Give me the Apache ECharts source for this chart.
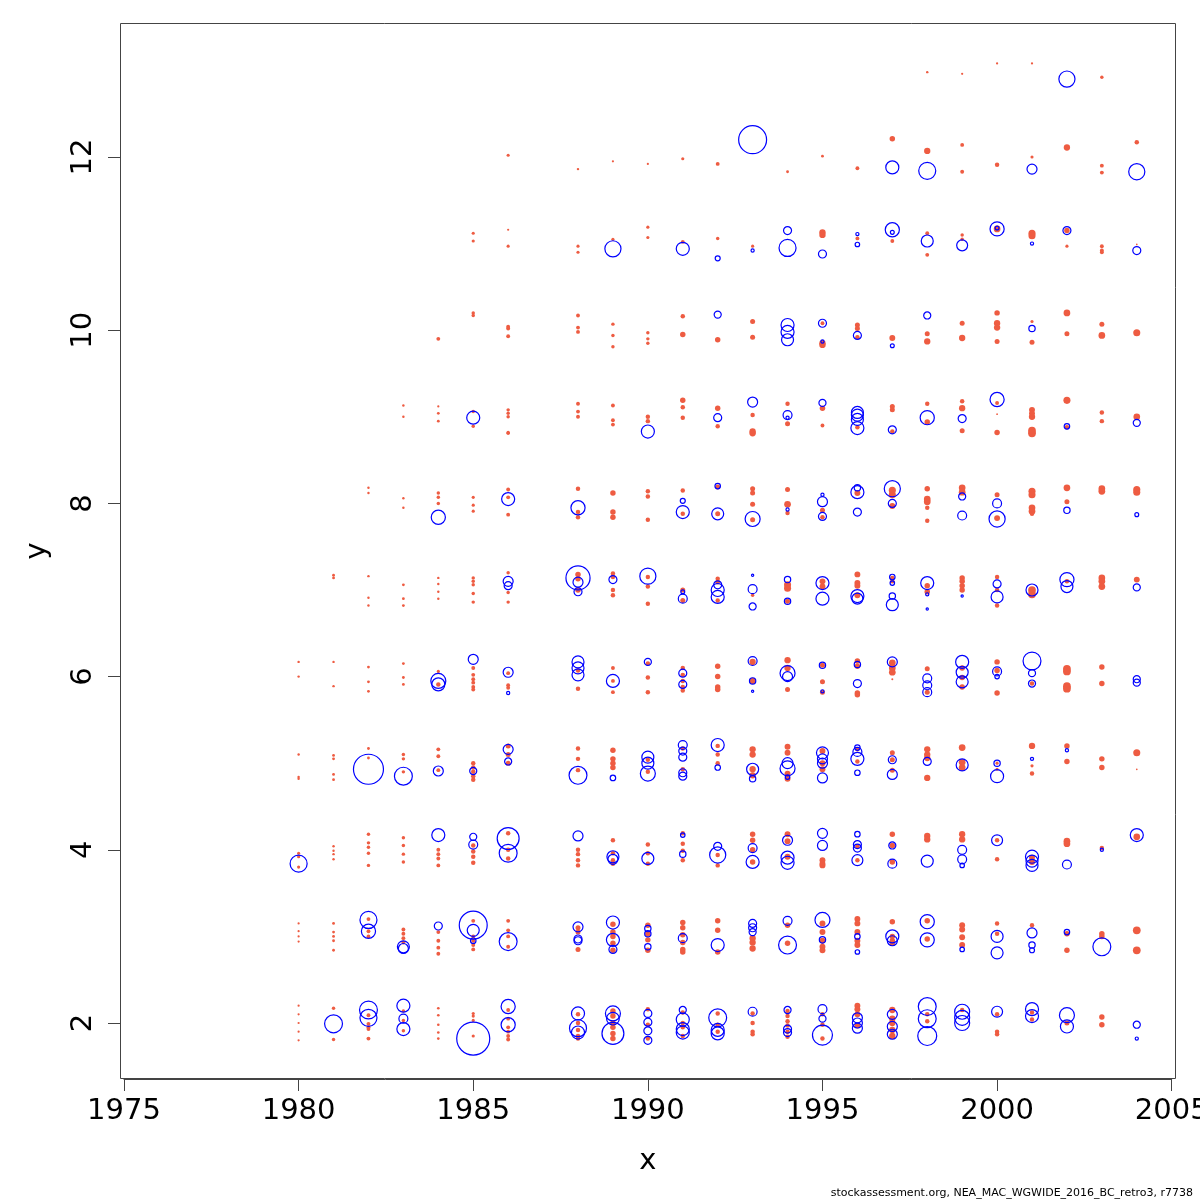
<!DOCTYPE html>
<html>
<head>
<meta charset="utf-8">
<script src="https://cdn.jsdelivr.net/npm/echarts@6/dist/echarts.min.js"></script>
<style>
html, body { margin: 0; padding: 0; background: #fff; }
#chart { width: 1200px; height: 1200px; }
</style>
</head>
<body>
<div id="chart"></div>
<script>
// residuals by age row: [year, y, residual]; negative -> filled red, positive -> open blue
const age2 = [
  [1980,2.2,-0.05],[1980,2.1,-0.05],[1980,2.0,-0.05],[1980,1.9,-0.05],[1980,1.8,-0.05],
  [1981,2.17,-0.12],[1981,1.81,-0.12],[1981,1.99,3.2],
  [1982,2.15,3.2],[1982,2.06,2.9],[1982,2.09,-0.15],[1982,1.99,-0.15],[1982,1.95,-0.15],[1982,1.93,-0.15],[1982,1.82,-0.15],
  [1983,2.2,1.7],[1983,2.05,0.8],[1983,1.93,1.7],[1983,2.14,-0.12],[1983,2.03,-0.12],[1983,1.91,-0.12],
  [1984,2.17,-0.07],[1984,2.09,-0.07],[1984,1.98,-0.07],[1984,1.89,-0.07],[1984,1.82,-0.07],
  [1985,1.82,10.9],[1985,2.11,-0.1],[1985,2.08,-0.1],[1985,2.03,-0.1],[1985,1.85,-0.1],
  [1986,2.19,2.0],[1986,1.98,2.0],[1986,2.15,-0.15],[1986,2.05,-0.15],[1986,1.95,-0.15],[1986,1.9,-0.15],[1986,1.85,-0.15],[1986,1.81,-0.15],
  [1988,2.11,1.7],[1988,1.94,2.9],[1988,1.89,1.7],[1988,2.1,-0.2],[1988,2.0,-0.2],[1988,1.92,-0.2],[1988,1.85,-0.2],[1988,1.82,-0.2],
  [1989,2.11,2.25],[1989,2.05,1.6],[1989,1.88,4.8],[1989,2.14,-0.3],[1989,2.08,-0.3],[1989,2.0,-0.3],[1989,1.95,-0.3],[1989,1.88,-0.3],[1989,1.82,-0.3],
  [1990,2.11,0.64],[1990,2.01,0.64],[1990,1.91,0.64],[1990,1.8,0.64],[1990,2.16,-0.2],[1990,1.98,-0.2],[1990,1.82,-0.2],
  [1991,2.15,0.5],[1991,2.04,1.7],[1991,1.93,1.7],[1991,1.89,1.7],[1991,2.12,-0.2],[1991,2.0,-0.2],[1991,1.95,-0.2],[1991,1.85,-0.2],
  [1992,2.06,3.2],[1992,1.92,1.7],[1992,1.88,1.7],[1992,2.11,-0.2],[1992,1.98,-0.2],[1992,1.9,-0.2],
  [1993,2.13,0.8],[1993,2.11,-0.2],[1993,2.0,-0.2],[1993,1.9,-0.2],[1993,1.87,-0.2],
  [1994,2.15,0.5],[1994,1.93,0.64],[1994,1.89,0.64],[1994,2.14,-0.2],[1994,2.08,-0.2],[1994,2.02,-0.2],[1994,1.97,-0.2],[1994,1.9,-0.2],[1994,1.84,-0.2],
  [1995,2.16,0.8],[1995,2.05,0.5],[1995,1.86,4.0],[1995,2.1,-0.2],[1995,1.98,-0.2],[1995,1.82,-0.2],
  [1996,2.06,1.0],[1996,2.0,1.0],[1996,1.94,1.0],[1996,2.2,-0.35],[1996,2.16,-0.35],[1996,2.1,-0.35],[1996,1.97,-0.35],
  [1997,2.1,1.0],[1997,1.96,1.0],[1997,1.87,1.0],[1997,2.15,-0.4],[1997,2.05,-0.4],[1997,2.0,-0.4],[1997,1.92,-0.4],[1997,1.85,-0.4],
  [1998,2.19,3.2],[1998,2.05,3.2],[1998,1.85,3.6],[1998,2.1,-0.2],[1998,2.02,-0.2],
  [1999,2.13,2.25],[1999,2.06,2.25],[1999,2.0,2.25],[1999,2.15,-0.2],
  [2000,2.13,1.2],[2000,2.1,-0.2],[2000,1.9,-0.2],[2000,1.87,-0.2],
  [2001,2.16,1.7],[2001,2.08,1.7],[2001,2.12,-0.2],[2001,2.04,-0.2],
  [2002,2.09,2.25],[2002,1.96,1.7],[2002,2.0,-0.25],
  [2003,2.07,-0.3],[2003,1.98,-0.3],
  [2004,1.98,0.5],[2004,1.82,0.1]
];
const age3 = [
  [1980,3.15,-0.05],[1980,3.06,-0.05],[1980,3.0,-0.05],[1980,2.94,-0.05],
  [1981,3.15,-0.08],[1981,3.05,-0.08],[1981,3.0,-0.08],[1981,2.95,-0.08],[1981,2.84,-0.08],
  [1982,3.19,2.9],[1982,3.06,2.0],[1982,3.2,-0.15],[1982,3.06,-0.15],[1982,3.0,-0.15],
  [1983,2.88,1.44],[1983,2.86,1.0],[1983,3.08,-0.15],[1983,3.03,-0.15],[1983,2.98,-0.15],[1983,2.93,-0.15],
  [1984,3.12,0.64],[1984,3.05,-0.15],[1984,2.95,-0.15],[1984,2.87,-0.15],[1984,2.8,-0.15],
  [1985,3.13,7.8],[1985,3.07,1.44],[1985,2.95,0.3],[1985,3.18,-0.15],[1985,3.0,-0.15],[1985,2.95,-0.15],[1985,2.9,-0.15],[1985,2.85,-0.15],
  [1986,2.94,3.2],[1986,3.18,-0.15],[1986,3.07,-0.15],[1986,3.0,-0.15],[1986,2.88,-0.15],
  [1988,3.11,1.0],[1988,2.97,0.64],[1988,2.95,0.64],[1988,3.1,-0.25],[1988,3.05,-0.25],[1988,2.85,-0.25],
  [1989,3.16,1.7],[1989,2.96,1.7],[1989,2.85,0.64],[1989,3.14,-0.3],[1989,3.05,-0.3],[1989,3.0,-0.3],[1989,2.92,-0.3],[1989,2.84,-0.3],
  [1990,3.09,0.4],[1990,3.03,0.4],[1990,2.88,0.4],[1990,3.13,-0.3],[1990,3.03,-0.3],[1990,2.96,-0.3],[1990,2.84,-0.3],
  [1991,2.98,0.8],[1991,3.16,-0.3],[1991,3.1,-0.3],[1991,3.02,-0.3],[1991,2.93,-0.3],[1991,2.85,-0.3],[1991,2.82,-0.3],
  [1992,2.9,1.7],[1992,3.18,-0.3],[1992,3.07,-0.3],[1992,2.82,-0.3],
  [1993,3.15,0.64],[1993,3.1,0.64],[1993,3.05,0.5],[1993,2.98,-0.4],[1993,2.93,-0.4],[1993,2.86,-0.4],
  [1994,3.18,0.8],[1994,2.9,3.2],[1994,3.13,-0.3],[1994,2.92,-0.3],
  [1995,3.19,2.25],[1995,2.96,0.4],[1995,3.15,-0.35],[1995,3.05,-0.35],[1995,2.95,-0.35],[1995,2.88,-0.35],[1995,2.84,-0.35],
  [1996,3.0,0.3],[1996,2.82,0.2],[1996,3.2,-0.35],[1996,3.15,-0.35],[1996,3.05,-0.35],[1996,2.95,-0.35],[1996,2.9,-0.35],
  [1997,3.0,1.7],[1997,2.95,1.0],[1997,3.17,-0.3],[1997,3.0,-0.3],[1997,2.95,-0.3],[1997,2.92,-0.3],
  [1998,3.17,2.0],[1998,2.96,2.0],[1998,3.18,-0.3],[1998,2.97,-0.3],
  [1999,2.85,0.2],[1999,3.13,-0.35],[1999,3.08,-0.35],[1999,2.99,-0.35],[1999,2.9,-0.35],
  [2000,3.0,1.44],[2000,2.81,1.44],[2000,3.15,-0.2],[2000,3.03,-0.2],
  [2001,3.04,1.0],[2001,2.9,0.4],[2001,2.84,0.25],[2001,3.13,-0.2],
  [2002,3.05,0.3],[2002,3.03,-0.3],[2002,2.84,-0.3],
  [2003,2.88,3.2],[2003,3.03,-0.3],[2003,3.0,-0.3],
  [2004,3.07,-0.6],[2004,2.84,-0.6]
];
const age4 = [
  [1980,3.84,2.9],[1980,3.96,-0.1],[1980,3.92,-0.1],[1980,3.8,-0.1],
  [1981,4.04,-0.06],[1981,3.99,-0.06],[1981,3.95,-0.06],[1981,3.89,-0.06],
  [1982,4.18,-0.12],[1982,4.08,-0.12],[1982,4.03,-0.12],[1982,3.96,-0.12],[1982,3.82,-0.12],
  [1983,4.14,-0.12],[1983,4.05,-0.12],[1983,3.95,-0.12],[1983,3.86,-0.12],
  [1984,4.17,1.7],[1984,4.0,-0.15],[1984,3.95,-0.15],[1984,3.9,-0.15],[1984,3.82,-0.15],
  [1985,4.15,0.5],[1985,4.06,0.8],[1985,4.05,-0.2],[1985,3.98,-0.2],[1985,3.92,-0.2],[1985,3.85,-0.2],
  [1986,4.13,4.8],[1986,3.96,3.2],[1986,4.19,-0.2],[1986,4.0,-0.2],[1986,3.9,-0.2],
  [1988,4.16,1.0],[1988,4.0,-0.2],[1988,3.95,-0.2],[1988,3.88,-0.2],[1988,3.82,-0.2],
  [1989,3.92,1.44],[1989,3.89,1.0],[1989,4.11,-0.2],[1989,3.96,-0.2],[1989,3.88,-0.2],[1989,3.84,-0.2],
  [1990,3.9,1.44],[1990,4.06,-0.2],[1990,3.96,-0.2],[1990,3.84,-0.2],
  [1991,4.17,0.2],[1991,3.95,0.4],[1991,4.19,-0.2],[1991,4.07,-0.2],[1991,3.99,-0.2],[1991,3.88,-0.2],
  [1992,4.04,0.64],[1992,3.94,2.6],[1992,3.94,-0.2],[1992,3.82,-0.2],
  [1993,4.02,0.8],[1993,3.86,1.7],[1993,4.18,-0.3],[1993,4.11,-0.3],[1993,4.0,-0.3],[1993,3.86,-0.3],
  [1994,4.11,1.0],[1994,3.91,1.7],[1994,3.85,1.7],[1994,4.18,-0.35],[1994,4.1,-0.35],[1994,3.92,-0.35],
  [1995,4.19,1.0],[1995,4.05,1.0],[1995,3.88,-0.35],[1995,3.84,-0.35],[1995,3.82,-0.35],
  [1996,4.18,0.3],[1996,4.06,0.64],[1996,4.02,0.64],[1996,3.88,1.2],[1996,4.04,-0.2],[1996,3.88,-0.2],
  [1997,4.05,0.5],[1997,3.84,0.8],[1997,4.18,-0.3],[1997,4.05,-0.3],[1997,3.86,-0.3],
  [1998,3.87,1.44],[1998,4.16,-0.4],[1998,4.12,-0.4],
  [1999,4.0,0.8],[1999,3.89,0.8],[1999,3.82,0.2],[1999,4.18,-0.4],[1999,4.12,-0.4],
  [2000,4.11,1.2],[2000,4.11,-0.2],[2000,3.89,-0.2],
  [2001,3.92,1.7],[2001,3.87,1.44],[2001,3.82,1.44],[2001,3.91,-0.35],[2001,3.86,-0.35],
  [2002,3.83,0.8],[2002,4.1,-0.45],[2002,4.07,-0.45],
  [2003,4.0,0.1],[2003,4.02,-0.2],
  [2004,4.17,1.7],[2004,4.15,-0.45]
];
const age5 = [
  [1980,5.1,-0.06],[1980,4.84,-0.06],[1980,4.82,-0.06],
  [1981,5.09,-0.08],[1981,5.05,-0.08],[1981,4.87,-0.08],[1981,4.81,-0.08],
  [1982,4.93,9.0],[1982,5.17,-0.08],[1982,5.06,-0.08],
  [1983,4.85,3.2],[1983,5.1,-0.12],[1983,5.05,-0.12],[1983,4.9,-0.12],
  [1984,4.91,1.0],[1984,5.16,-0.15],[1984,5.08,-0.15],[1984,4.92,-0.15],
  [1985,4.91,0.5],[1985,5.0,-0.2],[1985,4.95,-0.2],[1985,4.9,-0.2],[1985,4.85,-0.2],[1985,4.81,-0.2],
  [1986,5.16,1.0],[1986,5.02,0.5],[1986,5.2,-0.25],[1986,5.1,-0.25],[1986,5.0,-0.25],
  [1988,4.86,3.2],[1988,5.17,-0.2],[1988,5.05,-0.2],[1988,4.92,-0.2],
  [1989,4.83,0.3],[1989,5.15,-0.3],[1989,5.05,-0.3],[1989,5.0,-0.3],[1989,4.95,-0.3],
  [1990,5.07,1.44],[1990,5.0,1.44],[1990,4.88,2.25],[1990,5.04,-0.2],[1990,4.9,-0.2],
  [1991,5.21,0.8],[1991,5.14,0.64],[1991,5.07,0.64],[1991,4.89,0.64],[1991,4.85,0.64],[1991,5.17,-0.2],[1991,4.93,-0.2],
  [1992,5.21,1.7],[1992,4.95,0.3],[1992,5.2,-0.2],[1992,5.1,-0.2],[1992,5.0,-0.2],
  [1993,4.93,1.44],[1993,4.82,0.4],[1993,5.16,-0.4],[1993,5.1,-0.4],[1993,4.93,-0.4],[1993,4.86,-0.4],
  [1994,5.0,1.2],[1994,4.94,2.25],[1994,4.84,0.2],[1994,5.19,-0.35],[1994,5.12,-0.35],[1994,4.88,-0.35],[1994,4.82,-0.35],
  [1995,5.12,1.44],[1995,5.05,1.0],[1995,5.0,1.0],[1995,4.83,1.0],[1995,5.14,-0.35],[1995,5.0,-0.35],[1995,4.93,-0.35],
  [1996,5.18,0.3],[1996,5.13,0.8],[1996,5.05,1.7],[1996,4.89,0.3],[1996,5.16,-0.2],[1996,5.02,-0.2],
  [1997,5.04,0.64],[1997,4.87,1.0],[1997,5.12,-0.25],[1997,5.04,-0.25],[1997,4.92,-0.25],
  [1998,5.02,0.64],[1998,5.16,-0.4],[1998,5.1,-0.4],[1998,5.06,-0.4],[1998,4.83,-0.4],
  [1999,4.98,1.44],[1999,5.18,-0.45],[1999,5.01,-0.45],[1999,4.95,-0.45],
  [2000,5.0,0.4],[2000,4.85,1.7],[2000,5.0,-0.1],[2000,4.93,-0.1],
  [2001,5.05,0.1],[2001,5.2,-0.4],[2001,4.97,-0.1],[2001,4.88,-0.2],
  [2002,5.15,0.1],[2002,5.2,-0.3],[2002,5.02,-0.3],
  [2003,5.05,-0.3],[2003,4.95,-0.3],
  [2004,5.12,-0.5],[2004,4.93,-0.03]
];
const age6 = [
  [1980,6.17,-0.06],[1980,6.0,-0.06],
  [1981,6.17,-0.06],[1981,5.89,-0.06],
  [1982,6.11,-0.08],[1982,5.94,-0.08],[1982,5.83,-0.08],
  [1983,6.15,-0.08],[1983,5.99,-0.08],[1983,5.91,-0.08],
  [1984,6.06,-0.1],[1984,5.95,2.25],[1984,5.91,1.7],[1984,5.91,-0.2],
  [1985,6.2,1.0],[1985,6.1,-0.15],[1985,6.02,-0.15],[1985,5.97,-0.15],[1985,5.93,-0.15],[1985,5.88,-0.15],[1985,5.85,-0.15],
  [1986,6.05,1.0],[1986,6.04,-0.15],[1986,5.9,-0.15],[1986,5.87,-0.15],[1986,5.81,0.1],
  [1988,6.17,1.44],[1988,6.1,1.44],[1988,6.02,1.44],[1988,6.07,-0.2],[1988,5.86,-0.2],
  [1989,5.95,1.7],[1989,6.1,-0.15],[1989,5.95,-0.15],[1989,5.82,-0.15],
  [1990,6.17,0.5],[1990,6.15,-0.2],[1990,5.99,-0.2],[1990,5.82,-0.2],
  [1991,6.04,0.64],[1991,5.91,0.64],[1991,6.1,-0.2],[1991,6.02,-0.2],[1991,5.95,-0.2],[1991,5.88,-0.2],[1991,5.84,-0.2],
  [1992,6.12,-0.3],[1992,6.0,-0.3],[1992,5.88,-0.3],[1992,5.85,-0.3],
  [1993,6.18,0.8],[1993,5.95,0.4],[1993,5.83,0.05],[1993,6.17,-0.4],[1993,5.95,-0.4],
  [1994,6.04,2.25],[1994,6.0,1.0],[1994,6.19,-0.4],[1994,6.1,-0.4],[1994,5.85,-0.25],
  [1995,6.13,0.4],[1995,5.83,0.1],[1995,6.13,-0.25],[1995,5.94,-0.25],[1995,5.82,-0.25],
  [1996,6.14,0.4],[1996,5.92,0.64],[1996,6.18,-0.3],[1996,6.12,-0.3],[1996,5.81,-0.3],[1996,5.79,-0.3],
  [1997,6.17,1.0],[1997,6.16,-0.45],[1997,6.1,-0.45],[1997,6.05,-0.45],[1997,5.97,-0.04],
  [1998,5.98,0.8],[1998,5.9,0.8],[1998,5.82,0.8],[1998,6.09,-0.25],[1998,5.82,-0.25],
  [1999,6.17,1.7],[1999,6.05,1.44],[1999,5.94,1.44],[1999,6.1,-0.3],[1999,5.99,-0.3],[1999,5.88,-0.3],
  [2000,6.06,0.8],[2000,6.0,0.2],[2000,6.17,-0.3],[2000,6.07,-0.3],[2000,5.81,-0.3],
  [2001,6.18,3.2],[2001,6.04,0.5],[2001,5.92,0.5],[2001,5.92,-0.2],
  [2002,6.09,-0.6],[2002,6.06,-0.6],[2002,5.89,-0.6],[2002,5.86,-0.6],
  [2003,6.11,-0.3],[2003,5.92,-0.3],
  [2004,5.97,0.5],[2004,5.93,0.5]
];
const age7 = [
  [1981,7.17,-0.08],[1981,7.14,-0.08],
  [1982,7.16,-0.06],[1982,6.91,-0.06],[1982,6.82,-0.06],
  [1983,7.06,-0.08],[1983,6.9,-0.08],[1983,6.82,-0.08],
  [1984,7.14,-0.06],[1984,7.07,-0.06],[1984,6.98,-0.06],[1984,6.9,-0.06],
  [1985,7.14,-0.12],[1985,7.1,-0.12],[1985,7.06,-0.12],[1985,6.96,-0.12],[1985,6.86,-0.12],
  [1986,7.2,-0.12],[1986,6.97,-0.12],[1986,6.86,-0.12],[1986,7.1,1.0],[1986,7.05,0.64],
  [1988,7.14,5.8],[1988,7.09,1.0],[1988,6.98,0.64],[1988,7.18,-0.3],[1988,7.13,-0.3],[1988,7.0,-0.3],
  [1989,7.12,0.64],[1989,7.19,-0.2],[1989,7.15,-0.2],[1989,7.0,-0.2],[1989,6.94,-0.2],
  [1990,7.16,2.6],[1990,7.15,-0.2],[1990,7.04,-0.2],[1990,6.84,-0.2],
  [1991,6.98,0.15],[1991,6.9,0.8],[1991,7.0,-0.25],[1991,6.88,-0.25],
  [1992,7.0,1.7],[1992,6.92,1.7],[1992,7.06,0.64],[1992,7.13,-0.2],[1992,7.09,-0.2],[1992,6.88,-0.2],
  [1993,7.17,0.05],[1993,7.01,0.8],[1993,6.81,0.5],[1993,6.94,-0.12],
  [1994,7.12,0.4],[1994,6.87,0.4],[1994,7.06,-0.5],[1994,7.02,-0.5],[1994,6.87,-0.25],
  [1995,7.08,1.7],[1995,6.9,1.7],[1995,7.1,-0.35],[1995,7.04,-0.35],
  [1996,6.93,1.7],[1996,6.9,1.2],[1996,7.18,-0.35],[1996,7.08,-0.35],[1996,7.05,-0.35],[1996,6.94,-0.35],
  [1997,7.15,0.3],[1997,7.08,0.2],[1997,6.93,0.4],[1997,6.83,1.44],[1997,7.14,-0.2],[1997,7.1,-0.2],
  [1998,7.08,1.7],[1998,6.95,0.1],[1998,6.78,0.05],[1998,7.05,-0.3],[1998,6.98,-0.3],
  [1999,6.93,0.05],[1999,7.14,-0.3],[1999,7.1,-0.3],[1999,7.05,-0.3],[1999,7.0,-0.3],
  [2000,7.07,0.64],[2000,6.92,1.44],[2000,7.15,-0.2],[2000,7.0,-0.2],[2000,6.82,-0.2],
  [2001,7.0,1.44],[2001,7.0,-0.6],[2001,6.95,-0.6],
  [2002,7.12,2.0],[2002,7.04,1.44],[2002,7.1,-0.2],
  [2003,7.14,-0.45],[2003,7.1,-0.45],[2003,7.04,-0.45],
  [2004,7.12,-0.35],[2004,7.03,0.5]
];
const age8 = [
  [1982,8.18,-0.06],[1982,8.12,-0.06],
  [1983,8.06,-0.06],[1983,7.95,-0.06],
  [1984,8.12,-0.12],[1984,8.07,-0.12],[1984,8.0,-0.12],[1984,7.84,2.0],
  [1985,8.07,-0.1],[1985,7.98,-0.1],[1985,7.91,-0.1],
  [1986,8.16,-0.15],[1986,8.07,-0.15],[1986,7.87,-0.15],[1986,8.05,1.7],
  [1988,8.17,-0.2],[1988,7.9,-0.2],[1988,7.84,-0.2],[1988,7.95,2.0],
  [1989,8.12,-0.3],[1989,7.9,-0.3],[1989,7.84,-0.3],
  [1990,8.14,-0.2],[1990,8.08,-0.2],[1990,7.81,-0.2],
  [1991,8.03,0.25],[1991,7.9,1.7],[1991,8.15,-0.2],[1991,7.88,-0.2],
  [1992,8.2,0.3],[1992,8.19,-0.25],[1992,7.88,-0.25],[1992,7.88,1.44],
  [1993,8.17,-0.25],[1993,8.12,-0.25],[1993,7.99,-0.25],[1993,7.82,2.25],[1993,7.81,-0.25],
  [1994,8.16,-0.25],[1994,7.99,-0.45],[1994,7.93,0.1],[1994,7.89,-0.2],
  [1995,8.1,0.1],[1995,8.02,1.0],[1995,7.92,-0.25],[1995,7.85,0.64],[1995,7.84,-0.2],
  [1996,8.18,0.4],[1996,8.13,1.7],[1996,8.12,-0.35],[1996,7.9,0.64],
  [1997,8.17,2.6],[1997,8.15,-0.5],[1997,8.1,-0.5],[1997,8.0,0.64],[1997,7.97,-0.35],
  [1998,8.17,-0.3],[1998,8.05,-0.45],[1998,8.02,-0.45],[1998,7.95,-0.2],[1998,7.8,-0.2],
  [1999,8.18,-0.45],[1999,8.13,-0.45],[1999,8.08,0.5],[1999,7.86,0.8],
  [2000,8.1,-0.25],[2000,8.0,0.8],[2000,7.82,2.6],[2000,7.83,-0.35],
  [2001,8.14,-0.5],[2001,8.1,-0.5],[2001,7.95,-0.45],[2001,7.91,-0.45],[2001,7.88,-0.2],
  [2002,8.18,-0.45],[2002,8.02,-0.25],[2002,7.92,0.4],
  [2003,8.17,-0.45],[2003,8.14,-0.45],
  [2004,8.16,-0.5],[2004,8.13,-0.5],[2004,7.87,0.15]
];
const age9 = [
  [1983,9.13,-0.06],[1983,9.0,-0.06],
  [1984,9.12,-0.05],[1984,9.04,-0.08],[1984,8.95,-0.08],
  [1985,9.06,-0.12],[1985,8.89,-0.12],[1985,8.99,1.7],
  [1986,9.08,-0.12],[1986,9.04,-0.12],[1986,9.0,-0.12],[1986,8.82,-0.12],[1986,8.81,-0.12],
  [1988,9.15,-0.15],[1988,9.06,-0.15],[1988,9.0,-0.15],
  [1989,9.13,-0.15],[1989,8.96,-0.15],[1989,8.91,-0.15],
  [1990,9.0,-0.2],[1990,8.95,-0.2],[1990,8.83,1.7],
  [1991,9.19,-0.3],[1991,9.11,-0.2],[1991,8.99,-0.2],
  [1992,9.1,-0.3],[1992,8.99,0.64],[1992,8.89,-0.2],
  [1993,9.17,1.0],[1993,9.02,-0.2],[1993,8.83,-0.4],[1993,8.81,-0.4],
  [1994,9.15,-0.2],[1994,9.02,0.8],[1994,8.99,0.1],[1994,8.92,-0.25],
  [1995,9.16,0.5],[1995,9.1,-0.3],[1995,8.9,-0.15],
  [1996,9.05,1.44],[1996,9.02,1.44],[1996,8.97,1.44],[1996,8.87,1.7],[1996,8.88,-0.2],
  [1997,9.12,-0.25],[1997,9.08,-0.25],[1997,8.85,0.64],[1997,8.83,-0.2],
  [1998,9.15,-0.2],[1998,8.99,2.0],[1998,8.94,-0.3],
  [1999,9.18,-0.2],[1999,9.1,-0.4],[1999,8.98,0.64],[1999,8.84,-0.25],
  [2000,9.2,2.0],[2000,9.16,-0.15],[2000,9.03,-0.03],[2000,8.82,-0.3],
  [2001,9.08,-0.35],[2001,9.04,-0.35],[2001,9.0,-0.4],[2001,8.84,-0.6],[2001,8.81,-0.6],
  [2002,9.19,-0.5],[2002,8.89,0.3],[2002,8.88,-0.2],
  [2003,9.05,-0.2],[2003,8.95,-0.2],
  [2004,9.0,-0.45],[2004,8.93,0.5]
];
const age10 = [
  [1984,9.9,-0.15],
  [1985,10.2,-0.12],[1985,10.17,-0.12],
  [1986,10.04,-0.15],[1986,10.02,-0.15],[1986,9.93,-0.15],
  [1988,10.17,-0.15],[1988,10.03,-0.15],[1988,9.98,-0.15],
  [1989,10.07,-0.12],[1989,9.94,-0.12],[1989,9.81,-0.12],
  [1990,9.97,-0.12],[1990,9.9,-0.12],[1990,9.85,-0.12],
  [1991,10.16,-0.2],[1991,9.95,-0.3],
  [1992,10.18,0.5],[1992,9.89,-0.3],
  [1993,10.1,-0.25],[1993,9.92,-0.25],
  [1994,10.06,1.7],[1994,9.98,1.7],[1994,9.89,1.44],
  [1995,10.08,0.64],[1995,10.08,-0.15],[1995,9.85,-0.4],[1995,9.83,-0.4],[1995,9.87,0.1],
  [1996,10.06,-0.25],[1996,10.02,-0.25],[1996,9.94,0.64],[1996,9.92,-0.2],
  [1997,9.91,-0.35],[1997,9.82,0.15],
  [1998,10.17,0.5],[1998,9.96,-0.25],[1998,9.87,-0.4],
  [1999,10.08,-0.25],[1999,9.91,-0.4],
  [2000,10.2,-0.3],[2000,10.08,-0.4],[2000,10.03,-0.4],[2000,9.87,-0.25],
  [2001,10.1,-0.1],[2001,10.02,0.4],[2001,9.86,-0.25],
  [2002,10.2,-0.45],[2002,9.96,-0.25],
  [2003,10.07,-0.25],[2003,9.94,-0.45],
  [2004,9.97,-0.5]
];
const age11 = [
  [1985,11.12,-0.1],[1985,11.03,-0.1],
  [1986,11.16,-0.05],[1986,10.97,-0.1],
  [1988,10.97,-0.1],[1988,10.9,-0.1],
  [1989,11.05,-0.1],[1989,10.94,2.6],
  [1990,11.19,-0.1],[1990,11.07,-0.1],
  [1991,11.02,-0.15],[1991,10.94,1.7],
  [1992,11.06,-0.12],[1992,10.83,0.25],
  [1993,10.97,-0.1],[1993,10.92,0.1],
  [1994,11.15,0.64],[1994,10.95,2.9],
  [1995,11.13,-0.4],[1995,11.1,-0.4],[1995,10.88,0.64],
  [1996,11.11,0.1],[1996,11.06,-0.15],[1996,10.99,0.2],
  [1997,11.16,2.0],[1997,11.13,0.15],[1997,11.03,-0.15],
  [1998,11.12,-0.15],[1998,11.03,1.44],[1998,10.87,-0.15],
  [1999,11.1,-0.12],[1999,11.05,-0.12],[1999,10.98,1.2],
  [2000,11.17,2.0],[2000,11.17,-0.45],[2000,11.18,0.15],
  [2001,11.12,-0.5],[2001,11.09,-0.5],[2001,11.0,0.1],
  [2002,11.15,0.64],[2002,11.15,-0.3],[2002,10.97,-0.1],
  [2003,10.97,-0.15],[2003,10.92,-0.15],[2003,10.9,-0.15],
  [2004,10.99,-0.03],[2004,10.92,0.64]
];
const age12 = [
  [1986,12.02,-0.1],[1988,11.86,-0.06],[1989,11.95,-0.05],[1990,11.92,-0.05],
  [1991,11.98,-0.1],[1992,11.92,-0.15],[1993,12.2,7.8],[1994,11.83,-0.08],
  [1995,12.01,-0.08],[1996,11.87,-0.15],
  [1997,12.21,-0.3],[1997,11.88,1.7],
  [1998,12.07,-0.4],[1998,11.84,2.9],
  [1999,12.14,-0.15],[1999,11.83,-0.15],
  [2000,11.91,-0.2],
  [2001,12.0,-0.1],[2001,11.86,1.0],
  [2002,12.11,-0.4],
  [2003,11.9,-0.15],[2003,11.82,-0.15],
  [2004,12.17,-0.2],[2004,11.83,2.6]
];
const age13 = [
  [1998,12.98,-0.06],[1999,12.96,-0.05],[2000,13.08,-0.05],[2001,13.08,-0.05],
  [2002,12.9,2.6],[2003,12.92,-0.12]
];

const xTickStep = 5;
const yTickStep = 2;
const xTitle = 'x';
const yTitle = 'y';
const footer = 'stockassessment.org, NEA_MAC_WGWIDE_2016_BC_retro3, r7738';

const allPoints = [].concat(age2, age3, age4, age5, age6, age7, age8, age9, age10, age11, age12, age13);
const negPoints = allPoints.filter(p => p[2] < 0);
const posPoints = allPoints.filter(p => p[2] > 0);
const bubbleSize = v => 10 * Math.sqrt(Math.abs(v[2]));

const chart = echarts.init(document.getElementById('chart'));
const axisColor = '#444';
const font = 'DejaVu Sans';

chart.setOption({
    animation: false,
    textStyle: { fontFamily: font },
    grid: { left: 124, right: 28.3, top: 157, bottom: 177, outerBoundsMode: 'none', containLabel: false },
    xAxis: {
        type: 'value',
        min: 1975, max: 2005, interval: xTickStep,
        offset: 56,
        name: xTitle, nameLocation: 'middle', nameGap: 68,
        nameTextStyle: { fontSize: 29, color: '#000', fontFamily: font },
        axisLine: { show: true, lineStyle: { color: axisColor, width: 1 } },
        axisTick: { show: true, length: 12, lineStyle: { color: axisColor, width: 1 } },
        axisLabel: { fontSize: 29, color: '#000', margin: 18, fontFamily: font, formatter: v => String(v) },
        splitLine: { show: false }
    },
    yAxis: {
        type: 'value',
        min: 2, max: 12, interval: yTickStep,
        offset: 4,
        axisLine: { show: true, lineStyle: { color: axisColor, width: 1 } },
        axisTick: { show: true, length: 12, lineStyle: { color: axisColor, width: 1 } },
        axisLabel: { fontSize: 29, color: '#000', margin: 22, rotate: 90, fontFamily: font, formatter: v => String(v) },
        splitLine: { show: false }
    },
    graphic: [
        {
            // plot box, wider than the tick span like base R
            type: 'rect',
            shape: { x: 120.5, y: 23.5, width: 1055, height: 1055 },
            style: { fill: 'none', stroke: axisColor, lineWidth: 1 },
            silent: true
        },
        {
            // y title centred on the box, not on the tick span
            type: 'text',
            x: 37, y: 551,
            rotation: Math.PI / 2,
            style: { text: yTitle, fontSize: 29, fill: '#000', fontFamily: font, align: 'center', verticalAlign: 'middle' },
            silent: true
        },
        {
            type: 'text',
            right: 7, top: 1188,
            style: { text: footer, fontSize: 11, fill: '#000', fontFamily: font },
            silent: true
        }
    ],
    series: [
        {
            type: 'scatter',
            data: negPoints,
            symbol: 'circle',
            symbolSize: bubbleSize,
            clip: false,
            z: 2,
            itemStyle: { color: '#EE5C42', opacity: 1 }
        },
        {
            type: 'scatter',
            data: posPoints,
            symbol: 'circle',
            symbolSize: bubbleSize,
            clip: false,
            z: 3,
            itemStyle: { color: 'rgba(0,0,0,0)', borderColor: '#0000FF', borderWidth: 1.2, opacity: 1 }
        }
    ]
});
</script>
</body>
</html>
